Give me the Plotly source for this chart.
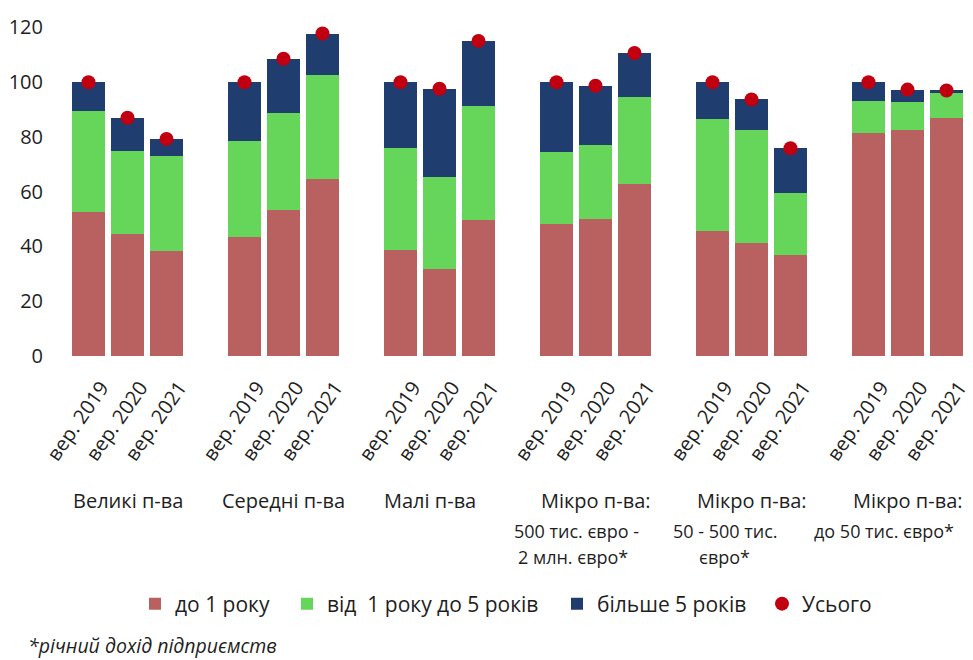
import plotly.graph_objects as go

groups = ["Великі п-ва", "Середні п-ва", "Малі п-ва", "Мікро п-ва:", "Мікро п-ва:", "Мікро п-ва:"]
group_sub1 = ["", "", "", "500 тис. євро -", "50 - 500 тис.", "до 50 тис. євро*"]
group_sub2 = ["", "", "", "2 млн. євро*", "євро*", ""]
years = ["вер. 2019", "вер. 2020", "вер. 2021"]

up_to_1 = [52.7, 44.4, 38.4, 43.3, 53.5, 64.8, 38.7, 31.9, 49.6,
           48.2, 50.0, 63.0, 45.7, 41.4, 37.0, 81.5, 82.4, 87.0]
one_to_5 = [36.7, 30.5, 34.6, 35.4, 35.1, 38.0, 37.2, 33.5, 41.6,
            26.3, 26.9, 31.6, 40.9, 41.1, 22.6, 11.7, 10.4, 9.4]
over_5 = [10.6, 12.1, 6.3, 21.3, 20.0, 15.0, 24.1, 32.2, 23.9,
          25.5, 21.8, 16.1, 13.4, 11.2, 16.3, 6.8, 4.5, 0.6]
total = [100, 87.0, 79.3, 100, 108.6, 117.8, 100, 97.6, 115.1,
         100, 98.7, 110.7, 100, 93.7, 75.9, 100, 97.3, 97.0]

y_ticks = [0, 20, 40, 60, 80, 100, 120]

# slot positions: 3 bars per group plus one empty slot between groups
xpos = [g * 4 + b for g in range(len(groups)) for b in range(len(years))]
xtext = [years[b] for g in range(len(groups)) for b in range(len(years))]

FONT = "Open Sans"
TXT = "#1e1e1e"
C_RED = "#B96060"
C_GREEN = "#66D65A"
C_BLUE = "#1F3D6E"
C_DOT = "#C00010"

fig = go.Figure()
fig.add_trace(go.Bar(x=xpos, y=up_to_1, name="до 1 року", legend="legend",
                     marker=dict(color=C_RED, line=dict(width=0))))
fig.add_trace(go.Bar(x=xpos, y=one_to_5, name="від\u00a0 1 року до 5 років", legend="legend2",
                     marker=dict(color=C_GREEN, line=dict(width=0))))
fig.add_trace(go.Bar(x=xpos, y=over_5, name="більше 5 років", legend="legend3",
                     marker=dict(color=C_BLUE, line=dict(width=0))))
fig.add_trace(go.Scatter(x=xpos, y=total, name="Усього", mode="markers", legend="legend4",
                         marker=dict(color=C_DOT, size=14)))

H_PLOT = 334.0
W_PLOT = 897.0
PLOT_LEFT = 69.0

def py(px):
    # px: vertical pixel position in the reference picture
    return -(px - 356) / H_PLOT

def pxp(px):
    # px: horizontal pixel position in the reference picture
    return (px - PLOT_LEFT) / W_PLOT

annotations = []
for g, name in enumerate(groups):
    mid = g * 4 + 1
    dx = -0.25 if g == 2 else 0
    annotations.append(dict(x=mid + dx, y=py(500), xref="x", yref="paper", text=name,
                            showarrow=False, xanchor="center", yanchor="middle",
                            font=dict(family=FONT, size=20, color=TXT)))
    if group_sub1[g]:
        off = [0, 0, 0, -0.5, -0.67, -0.6][g]
        annotations.append(dict(x=mid + off, y=py(531), xref="x", yref="paper", text=group_sub1[g],
                                showarrow=False, xanchor="center", yanchor="middle",
                                font=dict(family=FONT, size=18, color=TXT)))
    if group_sub2[g]:
        off = [0, 0, 0, -0.57, -0.7, 0][g]
        annotations.append(dict(x=mid + off, y=py(557), xref="x", yref="paper", text=group_sub2[g],
                                showarrow=False, xanchor="center", yanchor="middle",
                                font=dict(family=FONT, size=18, color=TXT)))

annotations.append(dict(x=pxp(26), y=py(645), xref="paper", yref="paper",
                        text="<i>*річний дохід підприємств</i>", showarrow=False,
                        xanchor="left", yanchor="middle",
                        font=dict(family=FONT, size=19.5, color=TXT)))

leg_font = dict(family=FONT, size=21, color=TXT)
def leg(xpx):
    return dict(orientation="h", x=pxp(xpx), xanchor="left", y=py(604), yanchor="middle",
                font=leg_font, itemwidth=30, bgcolor="rgba(0,0,0,0)")

fig.update_layout(
    barmode="stack",
    bargap=0.15,
    width=965, height=652,
    margin=dict(l=61, r=7, t=14, b=304, autoexpand=False),
    plot_bgcolor="white", paper_bgcolor="white",
    font=dict(family=FONT, size=17, color=TXT),
    showlegend=True,
    legend=leg(135),
    legend2=leg(287),
    legend3=leg(557),
    legend4=leg(762),
    annotations=annotations,
    xaxis=dict(range=[-0.5, 22.5], tickmode="array", tickvals=xpos, ticktext=xtext,
               tickangle=-55, showgrid=False, zeroline=False, showline=False,
               ticks="", ticklabelshift=13, ticklabelstandoff=15,
               ticklabeloverflow="allow", automargin=False,
               tickfont=dict(family=FONT, size=20, color=TXT)),
    yaxis=dict(range=[0, 122], tickmode="array", tickvals=y_ticks, showgrid=False,
               zeroline=False, showline=False, ticks="", ticklabelstandoff=25,
               automargin=False,
               tickfont=dict(family=FONT, size=20, color=TXT)),
)

fig.write_html("out.html")
